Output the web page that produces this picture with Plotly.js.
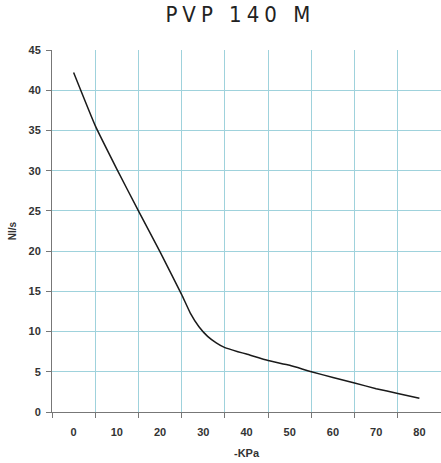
<!DOCTYPE html>
<html>
<head>
<meta charset="utf-8">
<script src="https://cdn.plot.ly/plotly-3.0.1.min.js"></script>
<style>
html,body{margin:0;padding:0;background:#fff;}
.gtitle{letter-spacing:5px;}
</style>
</head>
<body>
<div id="chart" style="width:441px;height:463px;"></div>
<script>
const pressureKPa = [0, 5, 10, 15, 20, 25, 27, 29, 31, 33, 35, 38, 40, 45, 50, 55, 60, 65, 70, 75, 80];
const flowNls    = [42.2, 35.6, 30.2, 25.0, 19.9, 14.6, 12.3, 10.6, 9.4, 8.6, 8.0, 7.5, 7.2, 6.4, 5.8, 5.0, 4.3, 3.6, 2.9, 2.3, 1.7];
const xTickVals = [0, 10, 20, 30, 40, 50, 60, 70, 80];
const yTickVals = [0, 5, 10, 15, 20, 25, 30, 35, 40, 45];
const chartTitle = 'PVP 140 M';

const gridColor = '#9fd2dc';
const tickFont = {family: 'Liberation Sans, Arial, sans-serif', size: 11, color: '#333', weight: 'bold'};

Plotly.newPlot('chart', [{
  x: pressureKPa,
  y: flowNls,
  type: 'scatter',
  mode: 'lines',
  line: {color: '#1a1a1a', width: 1.5, shape: 'spline', smoothing: 0.4},
  hoverinfo: 'skip'
}], {
  width: 441,
  height: 463,
  paper_bgcolor: '#ffffff',
  plot_bgcolor: '#ffffff',
  showlegend: false,
  margin: {l: 52, r: 0, t: 50, b: 51},
  title: {
    text: chartTitle,
    font: {family: 'DejaVu Sans Condensed, DejaVu Sans, sans-serif', size: 22, color: '#222', weight: 300},
    x: 0.545, xanchor: 'center', y: 0.985, yanchor: 'top'
  },
  xaxis: {
    range: [-5, 85],
    tickvals: xTickVals,
    ticks: '',
    showgrid: false,
    zeroline: false,
    showline: true,
    linecolor: '#777',
    linewidth: 1,
    tickfont: tickFont,
    ticklabelstandoff: 10,
    minor: {tick0: -5, dtick: 10, showgrid: true, gridcolor: gridColor, gridwidth: 1.2, ticks: 'outside', ticklen: 5, tickcolor: '#777'},
    title: {text: '<b>-KPa</b>', font: {family: 'Liberation Sans, Arial, sans-serif', size: 11, color: '#333'}, standoff: 12}
  },
  yaxis: {
    range: [0, 45],
    tickvals: yTickVals,
    ticks: 'outside',
    ticklen: 5,
    tickcolor: '#777',
    showgrid: true,
    gridcolor: gridColor,
    gridwidth: 1.2,
    zeroline: false,
    showline: true,
    linecolor: '#777',
    linewidth: 1,
    tickfont: tickFont,
    ticklabelstandoff: 3,
    title: {text: '<b>Nl/s</b>', font: {family: 'Liberation Sans, Arial, sans-serif', size: 10, color: '#333'}, standoff: 10}
  }
}, {staticPlot: true});
</script>
</body>
</html>
